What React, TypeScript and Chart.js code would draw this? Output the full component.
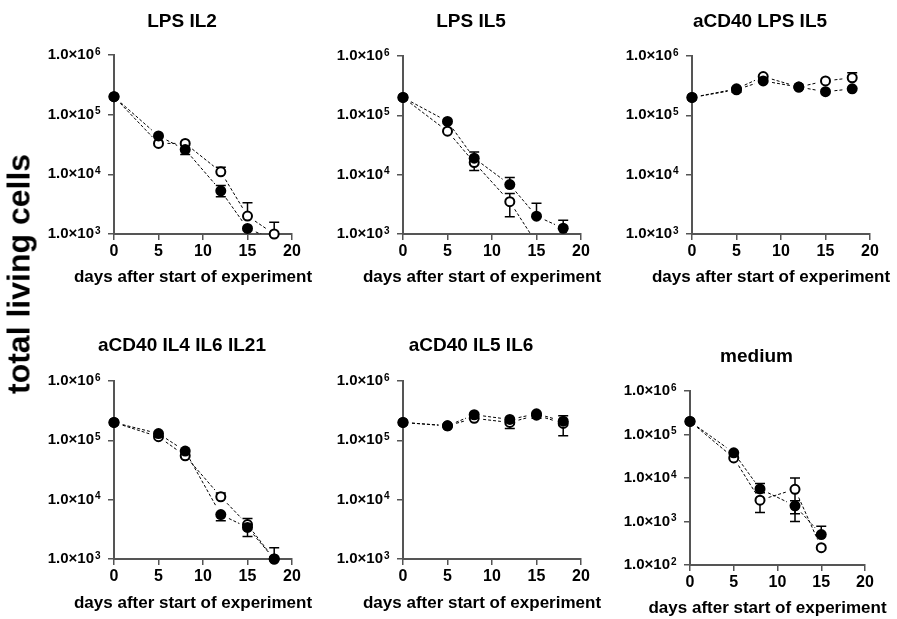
import React, { useEffect, useRef } from "react";
import { Chart, registerables } from "chart.js";

Chart.register(...registerables);

// ---------- data ----------
const DAYS = [0, 5, 8, 12, 15, 18];
const X_TICKS = [0, 5, 10, 15, 20];
const Y_TICKS = [1e3, 1e4, 1e5, 1e6];
const Y_TICKS_MEDIUM = [1e2, 1e3, 1e4, 1e5, 1e6];
const Y_AXIS_TITLE = "total living cells";
const X_AXIS_TITLE = "days after start of experiment";

const TITLES = ["LPS IL2", "LPS IL5", "aCD40 LPS IL5", "aCD40 IL4 IL6 IL21", "aCD40 IL5 IL6", "medium"];

// LPS IL2
const LPS_IL2_FILLED = [2.0e5, 4.4e4, 2.6e4, 5.3e3, 1.24e3, 8.0e2];
const LPS_IL2_FILLED_HI = [null, null, null, 6.5e3, null, null];
const LPS_IL2_FILLED_LO = [null, null, 2.15e4, 4.2e3, null, null];
const LPS_IL2_OPEN = [2.0e5, 3.3e4, 3.3e4, 1.1e4, 2.0e3, 1.0e3];
const LPS_IL2_OPEN_HI = [null, null, null, 1.32e4, 3.35e3, 1.57e3];
const LPS_IL2_OPEN_LO = [null, null, null, null, null, null];

// LPS IL5
const LPS_IL5_FILLED = [2.0e5, 7.9e4, 1.9e4, 6.8e3, 2.0e3, 1.25e3];
const LPS_IL5_FILLED_HI = [null, null, 2.4e4, 9.0e3, 3.3e3, 1.7e3];
const LPS_IL5_FILLED_LO = [null, null, null, null, null, null];
const LPS_IL5_OPEN = [2.0e5, 5.4e4, 1.6e4, 3.5e3, 7.0e2, null];
const LPS_IL5_OPEN_HI = [null, null, null, 4.8e3, null, null];
const LPS_IL5_OPEN_LO = [null, null, 1.17e4, 1.95e3, null, null];

// aCD40 LPS IL5
const CD40_LPS_IL5_FILLED = [2.0e5, 2.7e5, 3.8e5, 3.0e5, 2.5e5, 2.8e5];
const CD40_LPS_IL5_FILLED_HI = [null, null, null, null, null, null];
const CD40_LPS_IL5_FILLED_LO = [null, 2.45e5, null, null, null, null];
const CD40_LPS_IL5_OPEN = [2.0e5, 2.8e5, 4.5e5, 3.0e5, 3.8e5, 4.3e5];
const CD40_LPS_IL5_OPEN_HI = [null, null, null, null, null, 5.2e5];
const CD40_LPS_IL5_OPEN_LO = [null, null, null, null, null, null];

// aCD40 IL4 IL6 IL21
const CD40_IL4_IL6_IL21_FILLED = [2.0e5, 1.3e5, 6.6e4, 5.6e3, 3.4e3, 1.0e3];
const CD40_IL4_IL6_IL21_FILLED_HI = [null, null, null, null, null, 1.55e3];
const CD40_IL4_IL6_IL21_FILLED_LO = [null, null, null, 4.4e3, 2.4e3, null];
const CD40_IL4_IL6_IL21_OPEN = [2.0e5, 1.15e5, 5.5e4, 1.12e4, 3.8e3, 1.0e3];
const CD40_IL4_IL6_IL21_OPEN_HI = [null, null, null, 1.3e4, 4.8e3, null];
const CD40_IL4_IL6_IL21_OPEN_LO = [null, null, null, null, null, null];

// aCD40 IL5 IL6
const CD40_IL5_IL6_FILLED = [2.0e5, 1.76e5, 2.7e5, 2.25e5, 2.8e5, 2.1e5];
const CD40_IL5_IL6_FILLED_HI = [null, null, null, null, null, 2.6e5];
const CD40_IL5_IL6_FILLED_LO = [null, null, null, null, 2.35e5, null];
const CD40_IL5_IL6_OPEN = [2.0e5, 1.76e5, 2.35e5, 2.0e5, 2.65e5, 1.93e5];
const CD40_IL5_IL6_OPEN_HI = [null, null, null, null, null, null];
const CD40_IL5_IL6_OPEN_LO = [null, null, null, 1.58e5, null, 1.2e5];

// medium
const MEDIUM_FILLED = [2.0e5, 3.8e4, 5.6e3, 2.3e3, 5.0e2, null];
const MEDIUM_FILLED_HI = [null, null, 7.5e3, 3.0e3, 7.8e2, null];
const MEDIUM_FILLED_LO = [null, null, 4.6e3, 1.5e3, null, null];
const MEDIUM_OPEN = [2.0e5, 2.9e4, 3.1e3, 5.5e3, 2.5e2, null];
const MEDIUM_OPEN_HI = [null, null, null, 1.0e4, null, null];
const MEDIUM_OPEN_LO = [null, null, 1.6e3, 1.0e3, null, null];

// ---------- layout / style ----------
const FONT = "'Liberation Sans', Arial, Helvetica, sans-serif";
const AXIS = "#555555";
const PAD_L = 100;
const PAD_T = 50;
const PAD_R = 40;
const X_BOX = 70;
const TICK_LEN = 6;
const Y_LABEL_PAD = 14;

type Area = { l: number; t: number; r: number; b: number };
type Panel = {
  title: string;
  filled: (number | null)[];
  filledHi: (number | null)[];
  filledLo: (number | null)[];
  open: (number | null)[];
  openHi: (number | null)[];
  openLo: (number | null)[];
  yTicks: number[];
  area: Area;
  titleY: number;
  xTitleY: number;
};

const PANELS: Panel[] = [
  { title: TITLES[0], filled: LPS_IL2_FILLED, filledHi: LPS_IL2_FILLED_HI, filledLo: LPS_IL2_FILLED_LO, open: LPS_IL2_OPEN, openHi: LPS_IL2_OPEN_HI, openLo: LPS_IL2_OPEN_LO, yTicks: Y_TICKS, area: { l: 114, t: 55, r: 292, b: 234 }, titleY: 22, xTitleY: 282 },
  { title: TITLES[1], filled: LPS_IL5_FILLED, filledHi: LPS_IL5_FILLED_HI, filledLo: LPS_IL5_FILLED_LO, open: LPS_IL5_OPEN, openHi: LPS_IL5_OPEN_HI, openLo: LPS_IL5_OPEN_LO, yTicks: Y_TICKS, area: { l: 403, t: 56, r: 581, b: 234 }, titleY: 22, xTitleY: 282 },
  { title: TITLES[2], filled: CD40_LPS_IL5_FILLED, filledHi: CD40_LPS_IL5_FILLED_HI, filledLo: CD40_LPS_IL5_FILLED_LO, open: CD40_LPS_IL5_OPEN, openHi: CD40_LPS_IL5_OPEN_HI, openLo: CD40_LPS_IL5_OPEN_LO, yTicks: Y_TICKS, area: { l: 692, t: 56, r: 870, b: 234 }, titleY: 22, xTitleY: 282 },
  { title: TITLES[3], filled: CD40_IL4_IL6_IL21_FILLED, filledHi: CD40_IL4_IL6_IL21_FILLED_HI, filledLo: CD40_IL4_IL6_IL21_FILLED_LO, open: CD40_IL4_IL6_IL21_OPEN, openHi: CD40_IL4_IL6_IL21_OPEN_HI, openLo: CD40_IL4_IL6_IL21_OPEN_LO, yTicks: Y_TICKS, area: { l: 114, t: 381, r: 292, b: 559 }, titleY: 346, xTitleY: 608 },
  { title: TITLES[4], filled: CD40_IL5_IL6_FILLED, filledHi: CD40_IL5_IL6_FILLED_HI, filledLo: CD40_IL5_IL6_FILLED_LO, open: CD40_IL5_IL6_OPEN, openHi: CD40_IL5_IL6_OPEN_HI, openLo: CD40_IL5_IL6_OPEN_LO, yTicks: Y_TICKS, area: { l: 403, t: 381, r: 581, b: 559 }, titleY: 346, xTitleY: 608 },
  { title: TITLES[5], filled: MEDIUM_FILLED, filledHi: MEDIUM_FILLED_HI, filledLo: MEDIUM_FILLED_LO, open: MEDIUM_OPEN, openHi: MEDIUM_OPEN_HI, openLo: MEDIUM_OPEN_LO, yTicks: Y_TICKS_MEDIUM, area: { l: 690, t: 391, r: 865, b: 565 }, titleY: 357, xTitleY: 613 },
];

function toXY(vals: (number | null)[]) {
  return DAYS.map((d, i) => ({ x: d, y: vals[i] }));
}

function PanelChart({ p }: { p: Panel }) {
  const ref = useRef<HTMLCanvasElement>(null);
  const areaW = p.area.r - p.area.l;
  const areaH = p.area.b - p.area.t;
  const W = PAD_L + areaW + PAD_R;
  const H = PAD_T + areaH + X_BOX;
  const left = p.area.l - PAD_L;
  const top = p.area.t - PAD_T;

  useEffect(() => {
    const yMin = p.yTicks[0];
    const yMax = p.yTicks[p.yTicks.length - 1];

    const decor = {
      id: "decor",
      beforeDatasetsDraw(chart: any) {
        const { ctx, chartArea, scales } = chart;
        const ys = scales.y;
        chart.data.datasets.forEach((ds: any, i: number) => {
          const meta = chart.getDatasetMeta(i);
          const pts = meta.data;
          // connecting dashed lines with gaps at markers
          ctx.save();
          ctx.beginPath();
          ctx.rect(chartArea.left - 20, chartArea.top - 20, chartArea.width + 40, chartArea.height + 20);
          ctx.clip();
          ctx.strokeStyle = "#000";
          ctx.lineWidth = 1;
          ctx.setLineDash([3, 2]);
          let prev: any = null;
          ds.data.forEach((d: any, j: number) => {
            if (d.y == null) { prev = null; return; }
            const pt = pts[j];
            if (prev) {
              const dx = pt.x - prev.x, dy = pt.y - prev.y;
              const len = Math.hypot(dx, dy);
              const g = 9;
              if (len > 2 * g) {
                const ux = dx / len, uy = dy / len;
                ctx.beginPath();
                ctx.moveTo(prev.x + ux * g, prev.y + uy * g);
                ctx.lineTo(pt.x - ux * g, pt.y - uy * g);
                ctx.stroke();
              }
            }
            prev = pt;
          });
          ctx.restore();
          // error bars
          ctx.save();
          ctx.strokeStyle = "#000";
          ctx.lineWidth = 1.5;
          ctx.setLineDash([]);
          ds.data.forEach((d: any, j: number) => {
            if (d.y == null || d.y < yMin) return;
            const pt = pts[j];
            [ds.hi[j], ds.lo[j]].forEach((e: number | null) => {
              if (e == null) return;
              const ey = ys.getPixelForValue(e);
              ctx.beginPath();
              ctx.moveTo(pt.x, pt.y);
              ctx.lineTo(pt.x, ey);
              ctx.moveTo(pt.x - 5, ey);
              ctx.lineTo(pt.x + 5, ey);
              ctx.stroke();
            });
          });
          ctx.restore();
        });
      },
      afterDraw(chart: any) {
        const { ctx, chartArea, scales } = chart;
        const cx = (chartArea.left + chartArea.right) / 2;
        ctx.save();
        ctx.fillStyle = "#000";
        // superscript exponents of the y tick labels
        ctx.font = `bold 10px ${FONT}`;
        ctx.textAlign = "left";
        ctx.textBaseline = "alphabetic";
        const ys = scales.y;
        ys.ticks.forEach((t: any) => {
          const ty = ys.getPixelForValue(t.value);
          const e = String(Math.round(Math.log10(t.value)));
          ctx.fillText(e, chartArea.left - TICK_LEN - Y_LABEL_PAD + 1, ty - 0.5);
        });
        // panel title and x-axis title
        ctx.textAlign = "center";
        ctx.font = `bold 19px ${FONT}`;
        ctx.textBaseline = "middle";
        ctx.fillText(p.title, cx - 21, p.titleY - top);
        ctx.font = `bold 17px ${FONT}`;
        ctx.textBaseline = "alphabetic";
        ctx.fillText(X_AXIS_TITLE, cx - 10, p.xTitleY - top);
        ctx.restore();
      },
    };

    const radius = (r: number) => (c: any) => {
      const v = c.raw ? c.raw.y : null;
      return v == null || v < yMin ? 0 : r;
    };

    const chart = new Chart(ref.current as HTMLCanvasElement, {
      type: "line",
      data: {
        datasets: [
          {
            label: "filled",
            data: toXY(p.filled),
            hi: p.filledHi,
            lo: p.filledLo,
            showLine: false,
            pointRadius: radius(5.5),
            pointHoverRadius: radius(5.5),
            pointBackgroundColor: "#000",
            pointBorderColor: "#000",
            pointBorderWidth: 0,
            clip: false,
            order: 0,
          } as any,
          {
            label: "open",
            data: toXY(p.open),
            hi: p.openHi,
            lo: p.openLo,
            showLine: false,
            pointRadius: radius(4.5),
            pointHoverRadius: radius(4.5),
            pointBackgroundColor: "#fff",
            pointBorderColor: "#000",
            pointBorderWidth: 2,
            clip: false,
            order: 1,
          } as any,
        ],
      },
      options: {
        animation: false,
        responsive: false,
        devicePixelRatio: 1,
        events: [],
        layout: { padding: { top: PAD_T, right: PAD_R, bottom: 0, left: 0 } },
        plugins: { legend: { display: false }, tooltip: { enabled: false }, title: { display: false } },
        scales: {
          x: {
            type: "linear",
            min: 0,
            max: 20,
            afterBuildTicks: (s: any) => { s.ticks = X_TICKS.map((v) => ({ value: v })); },
            afterFit: (s: any) => { s.height = X_BOX; },
            grid: { drawOnChartArea: false, drawTicks: true, tickLength: TICK_LEN, color: AXIS, lineWidth: 1.5 },
            border: { display: true, color: AXIS, width: 2 },
            ticks: { color: "#000", font: { family: FONT, size: 16, weight: "bold" }, padding: 2, maxRotation: 0, autoSkip: false },
          },
          y: {
            type: "logarithmic",
            min: yMin,
            max: yMax,
            afterBuildTicks: (s: any) => { s.ticks = p.yTicks.map((v) => ({ value: v })); },
            afterFit: (s: any) => { s.width = PAD_L; },
            grid: { drawOnChartArea: false, drawTicks: true, tickLength: TICK_LEN, color: AXIS, lineWidth: 1.5 },
            border: { display: true, color: AXIS, width: 2 },
            ticks: { color: "#000", font: { family: FONT, size: 15, weight: "bold" }, padding: Y_LABEL_PAD, autoSkip: false, callback: () => "1.0×10" },
          },
        },
      } as any,
      plugins: [decor],
    });
    return () => chart.destroy();
  }, []);

  return (
    <canvas
      ref={ref}
      width={W}
      height={H}
      style={{ position: "absolute", left, top, width: W, height: H }}
    />
  );
}

export default function App() {
  return (
    <div style={{ position: "absolute", left: 0, top: 0, width: 897, height: 619, background: "#fff", overflow: "hidden" }}>
      {PANELS.map((p, i) => (
        <PanelChart key={i} p={p} />
      ))}
      <div
        style={{
          position: "absolute",
          left: 19,
          top: 274,
          transform: "translate(-50%, -50%) rotate(-90deg)",
          font: `bold 32px ${FONT}`,
          whiteSpace: "nowrap",
          color: "#000",
        }}
      >
        {Y_AXIS_TITLE}
      </div>
    </div>
  );
}
